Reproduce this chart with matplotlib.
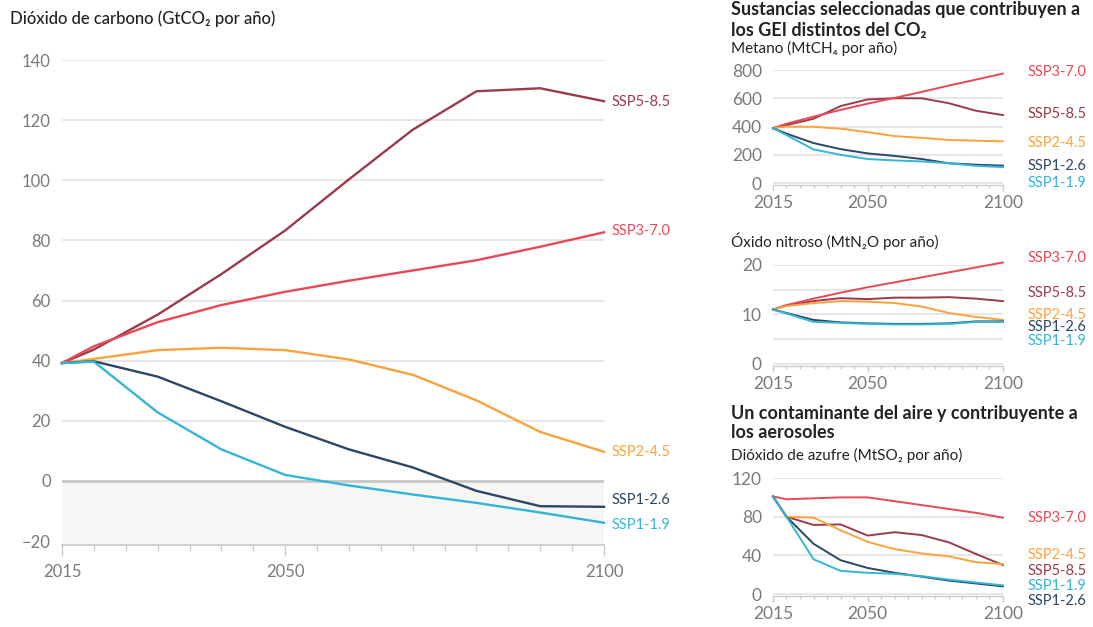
import matplotlib
matplotlib.use("Agg")
import matplotlib.pyplot as plt
from matplotlib.ticker import MultipleLocator

plt.rcParams['font.family'] = ['Lato', 'DejaVu Sans']

# -------------------------------------------------------
# Data
# -------------------------------------------------------
years = [2015, 2020, 2030, 2040, 2050, 2060, 2070, 2080, 2090, 2100]
scenarios = ["SSP5-8.5", "SSP3-7.0", "SSP2-4.5", "SSP1-2.6", "SSP1-1.9"]
colors = {
    "SSP5-8.5": "#9b3a4b",
    "SSP3-7.0": "#e84856",
    "SSP2-4.5": "#f8a33d",
    "SSP1-2.6": "#2b4666",
    "SSP1-1.9": "#33b5d6",
}

co2 = {
    "SSP5-8.5": [39.2, 43.7, 55.3, 68.8, 83.3, 100.3, 116.8, 129.6, 130.6, 126.3],
    "SSP3-7.0": [39.2, 44.8, 52.8, 58.5, 62.9, 66.6, 70.0, 73.4, 77.9, 82.7],
    "SSP2-4.5": [39.2, 40.6, 43.5, 44.3, 43.5, 40.4, 35.3, 26.8, 16.3, 9.7],
    "SSP1-2.6": [39.2, 39.8, 34.7, 26.5, 18.0, 10.5, 4.5, -3.3, -8.4, -8.6],
    "SSP1-1.9": [39.2, 39.7, 22.8, 10.5, 2.0, -1.5, -4.5, -7.3, -10.5, -13.9],
}

ch4 = {
    "SSP5-8.5": [388, 410, 455, 545, 592, 600, 600, 565, 512, 481],
    "SSP3-7.0": [388, 420, 470, 518, 562, 603, 645, 690, 732, 775],
    "SSP2-4.5": [388, 400, 398, 385, 360, 332, 320, 305, 300, 295],
    "SSP1-2.6": [388, 350, 283, 240, 210, 192, 170, 140, 130, 123],
    "SSP1-1.9": [388, 340, 238, 200, 170, 160, 153, 140, 122, 113],
}

n2o = {
    "SSP5-8.5": [11.0, 11.8, 12.7, 13.3, 13.1, 13.4, 13.4, 13.5, 13.2, 12.7],
    "SSP3-7.0": [11.0, 11.9, 13.2, 14.4, 15.5, 16.5, 17.5, 18.5, 19.5, 20.5],
    "SSP2-4.5": [11.0, 11.7, 12.3, 12.7, 12.6, 12.3, 11.6, 10.3, 9.5, 8.9],
    "SSP1-2.6": [11.0, 10.3, 8.9, 8.4, 8.2, 8.1, 8.1, 8.2, 8.6, 8.6],
    "SSP1-1.9": [11.0, 10.2, 8.5, 8.3, 8.1, 8.0, 8.0, 8.1, 8.5, 8.5],
}

so2 = {
    "SSP5-8.5": [101, 80, 71.5, 72, 60.5, 64, 61, 53.5, 41.5, 30],
    "SSP3-7.0": [101, 98, 99, 100, 100, 96, 92, 88, 84, 79],
    "SSP2-4.5": [101, 80, 79, 66, 54, 46.5, 42, 39, 33, 31],
    "SSP1-2.6": [101, 80, 52, 35, 27, 22, 18, 14, 11, 8],
    "SSP1-1.9": [101, 80, 36, 24, 22, 21, 18.5, 15, 12, 9],
}

# label heights (placement only)
co2_label_y = {"SSP5-8.5": 126, "SSP3-7.0": 83, "SSP2-4.5": 9.5,
               "SSP1-2.6": -6.5, "SSP1-1.9": -14.5}
ch4_label_y = {"SSP3-7.0": 786, "SSP5-8.5": 488, "SSP2-4.5": 283,
               "SSP1-2.6": 120, "SSP1-1.9": 0}
n2o_label_y = {"SSP3-7.0": 21.4, "SSP5-8.5": 14.3, "SSP2-4.5": 9.9,
               "SSP1-2.6": 7.5, "SSP1-1.9": 4.6}
so2_label_y = {"SSP3-7.0": 78.6, "SSP2-4.5": 40.3, "SSP5-8.5": 23.8,
               "SSP1-1.9": 8.3, "SSP1-2.6": -7.2}

GRID = "#e4e4e4"
TICKC = "#7a7a7a"
TEXTC = "#222222"

fig = plt.figure(figsize=(10.93, 6.27), dpi=100)


def style_axes(ax, ylim, yticks, label_size, year_pad, major_len, minor_len, spine_w):
    ax.set_xlim(2015, 2100)
    ax.set_ylim(*ylim)
    ax.set_yticks(yticks)
    for spine in ["left", "right", "top"]:
        ax.spines[spine].set_visible(False)
    ax.spines["bottom"].set_color("#cccccc")
    ax.spines["bottom"].set_linewidth(spine_w)
    ax.set_xticks([2015, 2050, 2100])
    ax.xaxis.set_minor_locator(MultipleLocator(5))
    ax.tick_params(axis="x", which="major", color="#cccccc", length=major_len,
                   width=1, labelsize=label_size, labelcolor=TICKC, pad=year_pad)
    ax.tick_params(axis="x", which="minor", color="#cccccc", length=minor_len, width=1)
    ax.tick_params(axis="y", length=0, labelsize=label_size,
                   labelcolor=TICKC, pad=8)
    for v in yticks:
        ax.axhline(v, color=GRID, lw=1.3, zorder=0)


def draw_lines(ax, data, label_y, label_x, fs, lw=1.6):
    for s in scenarios:
        ax.plot(years, data[s], color=colors[s], lw=lw, clip_on=False,
                solid_joinstyle="round", zorder=3)
        ax.text(label_x, label_y[s], s, color=colors[s], fontsize=fs,
                va="center", ha="left", clip_on=False)


# -------------------------------------------------------
# Main CO2 panel
# -------------------------------------------------------
ax = fig.add_axes([0.0567, 0.1308, 0.4959, 0.7735])
style_axes(ax, (-21.3, 140), [-20, 0, 20, 40, 60, 80, 100, 120, 140], 12, 6, 8, 4, 1.3)
ax.axhspan(-21.3, 0, color="#f6f6f4", zorder=0)
ax.axhline(0, color="#c8c8c8", lw=2, zorder=1)
draw_lines(ax, co2, co2_label_y, 2101.2, 10.5, lw=1.7)
fig.text(10 / 1093, 1 - 19 / 627, "Dióxido de carbono (GtCO₂ por año)",
         fontsize=12, fontweight="medium", color=TEXTC, va="center", ha="left")

# -------------------------------------------------------
# Methane panel
# -------------------------------------------------------
ax1 = fig.add_axes([0.7072, 0.7049, 0.2104, 0.1834])
style_axes(ax1, (-14, 800), [0, 200, 400, 600, 800], 12.5, 3, 4, 2, 1)
draw_lines(ax1, ch4, ch4_label_y, 2109.2, 10.5, lw=1.4)
fig.text(731 / 1093, 1 - 9 / 627, "Sustancias seleccionadas que contribuyen a",
         fontsize=13, fontweight="bold", color=TEXTC, va="center")
fig.text(731 / 1093, 1 - 30 / 627, "los GEI distintos del CO₂",
         fontsize=13, fontweight="bold", color=TEXTC, va="center")
fig.text(731 / 1093, 1 - 48 / 627, "Metano (MtCH₄ por año)",
         fontsize=11, color=TEXTC, va="center")

# -------------------------------------------------------
# Nitrous oxide panel
# -------------------------------------------------------
ax2 = fig.add_axes([0.7072, 0.4163, 0.2104, 0.1611])
style_axes(ax2, (-0.4, 20), [0, 10, 20], 12.5, 3, 4, 2, 1)
for v in [5, 15]:
    ax2.axhline(v, color=GRID, lw=1.3, zorder=0)
draw_lines(ax2, n2o, n2o_label_y, 2109.2, 10.5, lw=1.4)
fig.text(731 / 1093, 1 - 241 / 627, "Óxido nitroso (MtN₂O por año)",
         fontsize=11, color=TEXTC, va="center")

# -------------------------------------------------------
# Sulphur dioxide panel
# -------------------------------------------------------
ax3 = fig.add_axes([0.7072, 0.0494, 0.2104, 0.1882])
style_axes(ax3, (-2, 120), [0, 40, 80, 120], 12.5, 3, 4, 2, 1)
draw_lines(ax3, so2, so2_label_y, 2109.2, 10.5, lw=1.4)
fig.text(731 / 1093, 1 - 413 / 627, "Un contaminante del aire y contribuyente a",
         fontsize=13, fontweight="bold", color=TEXTC, va="center")
fig.text(731 / 1093, 1 - 433 / 627, "los aerosoles",
         fontsize=13, fontweight="bold", color=TEXTC, va="center")
fig.text(731 / 1093, 1 - 455 / 627, "Dióxido de azufre (MtSO₂ por año)",
         fontsize=11, color=TEXTC, va="center")

fig.savefig("out.png", dpi=100)
